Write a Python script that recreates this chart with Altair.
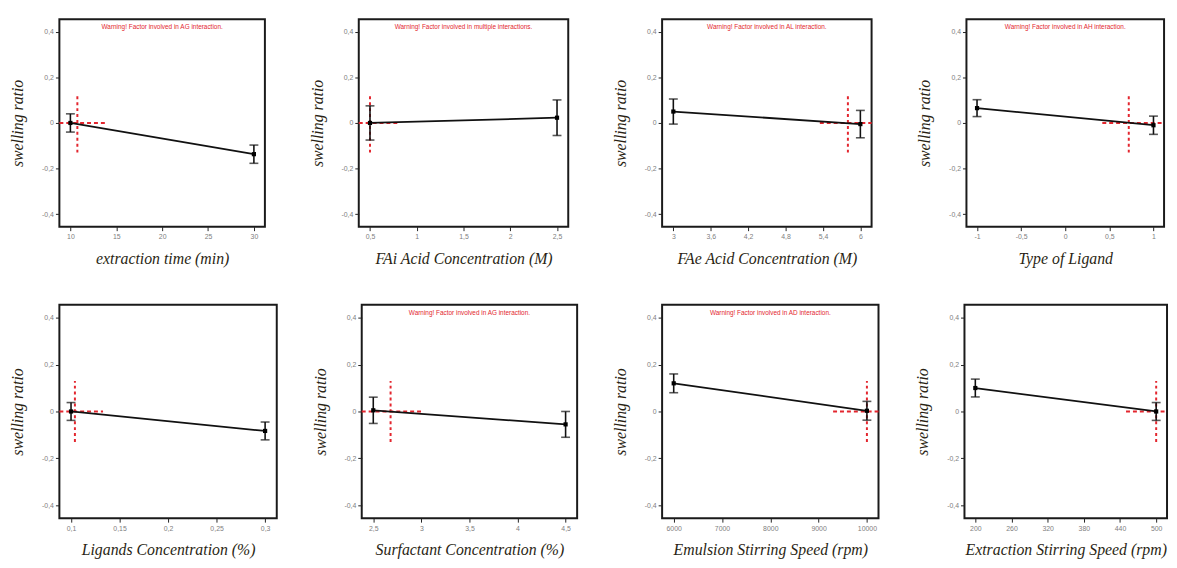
import altair as alt
import pandas as pd

# ---- data ----
factors = [
    "extraction time (min)", "FAi Acid Concentration (M)", "FAe Acid Concentration (M)", "Type of Ligand",
    "Ligands Concentration (%)", "Surfactant Concentration (%)", "Emulsion Stirring Speed (rpm)",
    "Extraction Stirring Speed (rpm)",
]
x_low = [10, 0.5, 3, -1, 0.1, 2.5, 6000, 200]
x_high = [30, 2.5, 6, 1, 0.3, 4.5, 10000, 500]
y_at_low = [0.0, 0.0, 0.05, 0.065, 0.0, 0.005, 0.12, 0.10]
y_at_high = [-0.137, 0.023, -0.005, -0.01, -0.083, -0.055, 0.003, 0.0]
err_at_low = [0.04, 0.075, 0.055, 0.037, 0.038, 0.056, 0.04, 0.038]
err_at_high = [0.04, 0.078, 0.06, 0.04, 0.038, 0.055, 0.04, 0.038]
ref_x = [10.76, 0.5, 5.8, 0.72, 0.104, 2.68, 10000, 500]
ref_y_half = [0.13] * 8
ref_h_from = [None, None, 5.35, 0.42, None, None, 9300, 450]   # None = axis edge
ref_h_to = [14, 0.81, None, None, 0.133, 3.0, None, None]
x_ticks = [
    [10, 15, 20, 25, 30], [0.5, 1, 1.5, 2, 2.5], [3, 3.6, 4.2, 4.8, 5.4, 6], [-1, -0.5, 0, 0.5, 1],
    [0.1, 0.15, 0.2, 0.25, 0.3], [2.5, 3, 3.5, 4, 4.5], [6000, 7000, 8000, 9000, 10000],
    [200, 260, 320, 380, 440, 500],
]
y_ticks = [-0.4, -0.2, 0, 0.2, 0.4]
warnings = [
    "Warning! Factor involved in AG interaction.", "Warning! Factor involved in multiple interactions.",
    "Warning! Factor involved in AL interaction.", "Warning! Factor involved in AH interaction.",
    "", "Warning! Factor involved in AG interaction.", "Warning! Factor involved in AD interaction.", "",
]

RED = "#e3262e"
LABEL_EXPR = "replace(datum.value + '', '.', ',')"


def panel(i, width, height):
    lo, hi = x_low[i], x_high[i]
    pad = 0.06 * (hi - lo)
    dom = [lo - pad, hi + pad]
    xs = alt.Scale(domain=dom, nice=False, zero=False)
    ys = alt.Scale(domain=[-0.455, 0.455], nice=False, zero=False)

    pts = pd.DataFrame({
        "x": [lo, hi],
        "y": [y_at_low[i], y_at_high[i]],
        "e": [err_at_low[i], err_at_high[i]],
    })
    pts["ylo"] = pts["y"] - pts["e"]
    pts["yhi"] = pts["y"] + pts["e"]

    xaxis = alt.Axis(values=x_ticks[i], title=factors[i], labelExpr=LABEL_EXPR)
    yaxis = alt.Axis(values=y_ticks, title="swelling ratio", labelExpr=LABEL_EXPR)

    base = alt.Chart(pts)
    line = base.mark_line(color="#111", strokeWidth=1.8).encode(
        x=alt.X("x:Q", scale=xs, axis=xaxis),
        y=alt.Y("y:Q", scale=ys, axis=yaxis),
    )
    bars = base.mark_rule(color="#111", strokeWidth=1.6).encode(
        x="x:Q", y="ylo:Q", y2="yhi:Q")
    cap_lo = base.mark_tick(color="#111", orient="horizontal", size=9, thickness=1.6).encode(
        x="x:Q", y="ylo:Q")
    cap_hi = base.mark_tick(color="#111", orient="horizontal", size=9, thickness=1.6).encode(
        x="x:Q", y="yhi:Q")
    dots = base.mark_square(color="#000", size=18, opacity=1).encode(x="x:Q", y="y:Q")

    vref = alt.Chart(pd.DataFrame({
        "x": [ref_x[i]], "y1": [-ref_y_half[i]], "y2": [ref_y_half[i]]
    })).mark_rule(color=RED, strokeWidth=2, strokeDash=[3, 3]).encode(
        x="x:Q", y="y1:Q", y2="y2:Q")
    hfrom = dom[0] if ref_h_from[i] is None else ref_h_from[i]
    hto = dom[1] if ref_h_to[i] is None else ref_h_to[i]
    href = alt.Chart(pd.DataFrame({
        "x1": [hfrom], "x2": [hto], "y": [0.0]
    })).mark_rule(color=RED, strokeWidth=2, strokeDash=[4, 3]).encode(
        x="x1:Q", x2="x2:Q", y="y:Q")

    layers = [href, vref, line, bars, cap_lo, cap_hi, dots]
    if warnings[i]:
        txt = alt.Chart(pd.DataFrame({"t": [warnings[i]]})).mark_text(
            color=RED, font="Liberation Sans", fontSize=6.5, baseline="middle", align="center"
        ).encode(text="t:N", x=alt.value(width / 2), y=alt.value(8))
        layers.append(txt)
    return alt.layer(*layers).properties(width=width, height=height)


row1 = alt.hconcat(
    panel(0, 208, 210), panel(1, 212, 210), panel(2, 212, 210), panel(3, 200, 210),
    spacing=42,
)
row2 = alt.hconcat(
    panel(4, 220, 216), panel(5, 218, 216), panel(6, 219, 216), panel(7, 205, 216),
    spacing=33,
)

chart = alt.vconcat(row1, row2, spacing=37).properties(
    padding={"left": 0, "top": 7, "right": 0, "bottom": 0}
).configure_view(
    stroke="#1a1a1a", strokeWidth=2
).configure_axis(
    grid=False, domain=False, tickColor="#222", tickSize=4, tickWidth=1,
    labelFont="Liberation Sans", labelFontSize=7, labelColor="#808080", labelPadding=2,
    titleFont="Liberation Serif", titleFontStyle="italic", titleFontWeight="normal",
    titleFontSize=16, titleColor="#2a1f14",
).configure_axisY(titlePadding=16).configure_axisX(titlePadding=11)

chart.save("out.html", embed_options={"renderer": "svg", "actions": False})
